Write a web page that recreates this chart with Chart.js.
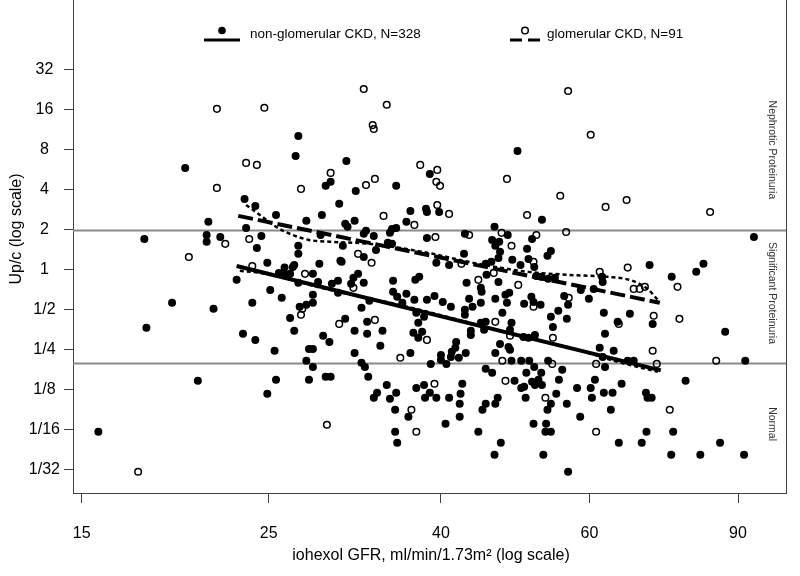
<!DOCTYPE html>
<html>
<head>
<meta charset="utf-8">
<script src="https://cdn.jsdelivr.net/npm/chart.js@4.4.1/dist/chart.umd.min.js"></script>
<style>
  html, body { margin: 0; padding: 0; background: #fff; }
  canvas { display: block; }
</style>
</head>
<body>
<canvas id="chart" width="800" height="576"></canvas>
<script>
// Up/c vs iohexol GFR, both on log axes, two CKD groups with fitted + smoothed lines

const FONT = '"Liberation Sans", Arial, Helvetica, sans-serif';
const AXIS = '#404040';

const xTickValues = [15, 25, 40, 60, 90];
const yTickValues = [1/32, 1/16, 1/8, 1/4, 1/2, 1, 2, 4, 8, 16, 32];
const yTickLabels = ['1/32', '1/16', '1/8', '1/4', '1/2', '1', '2', '4', '8', '16', '32'];
const cutoffs = [2, 0.2];
const zoneNames = ['Nephrotic Proteinuria', 'Significant Proteinuria', 'Normal'];
const seriesNames = ['non-glomerular CKD, N=328', 'glomerular CKD, N=91'];

// [GFR, Up/c]
const nonGlomerular = [
  [19.9,5.86],[23.4,3.42],[24.1,3.03],[21.2,2.30],[23.5,2.07],[21.1,1.83],[21.1,1.63],[21.9,1.77],[17.8,1.71],[24.2,1.46],
  [27.1,10.2],[26.9,7.21],[30.9,6.61],[38.8,5.28],[29.6,4.60],[29.2,4.29],[31.7,3.93],[35.4,4.29],[30.3,3.14],[25.5,2.59],
  [28.9,2.59],[27.7,2.34],[30.8,2.22],[31.0,2.11],[31.6,2.34],[36.8,2.78],[36.4,2.30],[38.4,2.88],[38.5,2.73],[24.5,1.80],
  [32.6,1.97],[32.4,1.87],[33.3,1.80],[35.0,2.03],[35.4,2.07],[34.8,1.90],[28.8,1.83],[38.5,1.74],[34.6,1.60],[35.0,1.57],
  [27.1,1.52],[30.6,1.52],[27.1,1.32],[33.5,1.41],[32.4,1.25],[24.9,1.13],[26.8,1.09],[26.7,1.05],[26.1,1.04],[28.7,1.11],
  [30.4,1.17],[30.5,1.15],
  [49.3,7.86],[39.8,2.73],[52.7,2.38],[46.3,2.11],[42.7,1.87],[48.0,1.83],[46.0,1.68],[46.9,1.63],[51.3,1.71],[46.4,1.52],
  [47.0,1.37],[50.6,1.44],[54.0,1.39],[53.5,1.28],[42.6,1.32],[46.8,1.23],[48.6,1.19],[50.8,1.21],[49.7,1.09],[51.6,1.05],
  [45.9,1.15],[45.2,1.11],[39.5,1.13],[40.9,1.09],
  [94.0,1.77],[70.7,1.09],[81.9,1.11],[80.3,0.966],
  [22.9,0.841],[19.2,0.565],[21.5,0.509],[23.9,0.565],[17.9,0.366],[23.3,0.330],[24.1,0.297],[20.6,0.146],[15.7,0.0604],
  [25.7,0.949],[26.1,0.917],[26.5,0.933],[28.2,0.933],[27.1,0.799],[28.6,0.812],[29.7,0.785],[30.2,0.827],[31.5,0.871],[31.9,0.933],
  [31.3,0.785],[32.4,0.799],[30.2,0.672],[35.1,0.827],[37.3,0.841],[37.7,0.886],[25.1,0.707],[25.9,0.616],[28.2,0.649],[28.2,0.565],
  [27.7,0.546],[27.2,0.527],[26.5,0.435],[26.8,0.348],[29.0,0.319],[29.5,0.287],[30.8,0.428],[32.2,0.518],[32.9,0.585],[32.7,0.406],
  [31.6,0.348],[32.7,0.330],[34.1,0.348],[33.9,0.268],[35.1,0.683],[35.5,0.627],[36.4,0.660],[36.0,0.565],[37.2,0.595],[38.5,0.595],
  [37.4,0.475],[38.2,0.443],[37.6,0.399],[37.1,0.336],[37.6,0.308],[38.0,0.342],[36.8,0.237],[25.4,0.246],[27.9,0.254],[28.2,0.254],
  [27.7,0.207],[28.2,0.186],[31.6,0.237],[32.2,0.200],[32.5,0.186],[32.8,0.157],[29.2,0.157],[29.6,0.157],[25.5,0.149],[27.9,0.149],
  [24.9,0.117],[34.5,0.136],[33.6,0.119],[33.3,0.109],[34.8,0.107],[35.4,0.119],[35.3,0.0884],[36.6,0.0783],[37.4,0.129],[38.2,0.136],
  [38.3,0.109],[35.3,0.0604],[35.5,0.0499],
  [39.3,0.637],[40.2,0.574],[41.1,0.527],[42.9,0.799],[44.6,0.732],[44.7,0.683],[45.3,0.917],[46.8,0.812],[51.9,0.901],[52.6,0.886],
  [53.6,0.856],[54.6,0.871],[47.7,0.649],[48.2,0.672],[46.4,0.605],[47.9,0.565],[50.2,0.555],[51.2,0.627],[51.5,0.574],[52.5,0.546],
  [43.2,0.605],[43.6,0.527],[44.6,0.565],[42.7,0.500],[42.7,0.459],[56.0,0.637],[56.6,0.546],[55.1,0.492],[56.4,0.428],[59.9,0.605],
  [58.6,0.707],[60.7,0.719],[54.0,0.443],[54.3,0.372],[47.3,0.475],[44.6,0.399],[45.2,0.406],[45.0,0.354],[43.4,0.348],[43.4,0.324],
  [48.5,0.399],[48.3,0.354],[50.1,0.313],[50.8,0.308],[51.7,0.324],[47.0,0.277],[48.1,0.263],[48.3,0.250],[46.4,0.237],[41.7,0.287],
  [41.6,0.259],[41.2,0.242],[41.1,0.221],[40.0,0.229],[40.0,0.210],[42.0,0.218],[42.8,0.237],[38.9,0.196],[40.6,0.196],[45.2,0.180],
  [46.0,0.168],[48.5,0.207],[49.8,0.207],[50.9,0.207],[51.6,0.186],[50.5,0.168],[52.6,0.168],[53.6,0.207],[55.7,0.177],[48.9,0.146],
  [49.8,0.129],[50.2,0.132],[51.3,0.144],[51.7,0.136],[52.7,0.136],[52.2,0.149],[50.4,0.109],[55.2,0.149],[54.8,0.117],[38.8,0.119],
  [39.5,0.109],[40.9,0.109],[42.4,0.139],[42.2,0.117],[42.1,0.0981],[42.1,0.0783],[46.7,0.109],[46.4,0.0981],[45.2,0.0981],[44.8,0.0884],
  [54.0,0.0981],[53.5,0.0884],[56.4,0.0981],[58.0,0.129],[60.2,0.129],[60.4,0.109],[60.9,0.149],[58.5,0.0783],[40.5,0.0694],[44.3,0.0604],
  [47.1,0.0499],[46.3,0.0405],[51.5,0.0694],[53.3,0.0694],[53.2,0.0604],[54.0,0.0604],[52.9,0.0405],[56.6,0.0302],
  [62.1,0.886],[62.2,0.812],[75.1,0.886],[62.4,0.475],[67.0,0.467],[64.8,0.406],[71.3,0.392],[62.6,0.330],[86.9,0.342],[64.1,0.246],
  [61.7,0.259],[62.2,0.221],[62.6,0.186],[66.6,0.207],[67.7,0.207],[91.8,0.207],[65.5,0.139],[62.4,0.119],[63.9,0.119],[70.0,0.119],
  [70.3,0.109],[71.1,0.109],[63.6,0.0884],[78.0,0.146],[70.1,0.0604],[75.4,0.0604],[65.0,0.0499],[69.2,0.0499],[85.7,0.0499],[75.0,0.0405],
  [81.2,0.0405],[91.5,0.0405]
];

const glomerular = [
  [21.7,16.3],[23.5,6.39],[24.2,6.17],[21.7,4.14],[22.2,1.57],[23.7,1.71],[20.1,1.25],[23.9,1.07],
  [24.7,16.6],[32.4,23.0],[34.5,17.5],[33.2,12.3],[33.3,11.5],[37.8,6.17],[29.6,5.37],[27.3,4.07],[33.4,4.84],[32.6,4.36],
  [34.2,2.55],[37.2,2.18],[31.9,1.32],[33.1,1.13],
  [56.6,22.2],[60.2,10.4],[39.6,5.66],[39.5,4.60],[39.9,4.29],[47.9,4.84],[55.4,3.61],[39.6,3.08],[40.9,2.64],[50.6,2.59],
  [43.2,1.83],[47.2,1.90],[51.9,1.83],[56.3,1.93],[39.4,1.77],[48.5,1.52],[51.5,1.15],[42.3,1.11],
  [62.7,2.98],[66.4,3.36],[83.4,2.73],[66.6,1.04],
  [17.5,0.0302],
  [27.6,0.933],[31.5,0.732],[27.4,0.509],[27.3,0.459],[30.3,0.392],[33.4,0.420],[38.5,0.297],[35.8,0.218],[29.3,0.0682],
  [36.9,0.0884],[37.4,0.0604],
  [44.3,0.841],[46.2,0.949],[49.4,0.771],[51.5,0.527],[56.7,0.616],[46.4,0.406],[48.3,0.319],[54.3,0.308],[47.3,0.207],
  [54.2,0.196],[61.1,0.196],[47.7,0.146],[39.3,0.139],[53.2,0.109],[61.1,0.0604],
  [61.7,0.966],[76.3,0.745],[67.7,0.719],[68.8,0.719],[69.8,0.745],[65.0,0.392],[71.5,0.451],[76.7,0.428],[71.3,0.246],
  [72.1,0.196],[84.8,0.207],[74.7,0.0884]
];

// regression lines and lowess curves
const nonGlomFit = [[22.9, 1.07], [72.9, 0.175]];
const glomFit = [[23.0, 2.55], [72.7, 0.565]];
const nonGlomSmooth = [[23.1,0.983],[24.4,0.949],[29.5,0.707],[35.7,0.545],[42.0,0.420],[49.4,0.319],[58.1,0.250],[64.8,0.203],[72.3,0.171]];
const glomSmooth = [[23.5,3.08],[24.4,2.59],[25.5,2.11],[26.7,1.83],[27.9,1.68],[29.5,1.63],[32.9,1.57],[38.7,1.34],
  [43.1,1.15],[50.8,0.966],[56.6,0.917],[63.1,0.886],[67.5,0.827],[70.3,0.719],[72.3,0.595]];

const toXY = pts => pts.map(([x, y]) => ({ x, y }));

const lineSet = (pts, width, dash) => ({
  type: 'line',
  data: toXY(pts),
  borderColor: '#000',
  borderWidth: width,
  borderDash: dash,
  pointRadius: 0,
  fill: false,
  cubicInterpolationMode: 'monotone',
  order: 0
});

// no label overhang padding, so the plot box fills the canvas top
const noPad = s => { s.paddingTop = 0; s.paddingBottom = 0; s.paddingLeft = 0; s.paddingRight = 0; };

const decor = {
  id: 'decor',
  beforeDatasetsDraw(chart) {
    const { ctx, chartArea: a, scales: { y } } = chart;
    ctx.save();
    ctx.strokeStyle = '#8a8a8a';
    ctx.lineWidth = 2;
    cutoffs.forEach(c => {
      const py = Math.round(y.getPixelForValue(c)) + 0.5;
      ctx.beginPath();
      ctx.moveTo(a.left, py);
      ctx.lineTo(a.right, py);
      ctx.stroke();
    });
    ctx.restore();
  },
  afterDraw(chart) {
    const { ctx, chartArea: a, scales: { y } } = chart;
    ctx.save();

    // right side of the box
    ctx.strokeStyle = AXIS;
    ctx.lineWidth = 1;
    ctx.beginPath();
    ctx.moveTo(a.right + 0.5, a.top);
    ctx.lineTo(a.right + 0.5, a.bottom);
    ctx.stroke();

    // zone names, rotated
    const zoneAt = [8, 0.67, 0.069];
    ctx.fillStyle = '#333';
    ctx.font = '10.5px ' + FONT;
    ctx.textAlign = 'center';
    ctx.textBaseline = 'middle';
    zoneNames.forEach((name, i) => {
      ctx.save();
      ctx.translate(772, y.getPixelForValue(zoneAt[i]));
      ctx.rotate(Math.PI / 2);
      ctx.fillText(name, 0, 0);
      ctx.restore();
    });

    // legend
    ctx.fillStyle = '#000';
    ctx.strokeStyle = '#000';
    ctx.lineWidth = 3;
    ctx.beginPath();
    ctx.moveTo(204, 40);
    ctx.lineTo(240, 40);
    ctx.stroke();
    ctx.beginPath();
    ctx.arc(222, 30.5, 3.8, 0, Math.PI * 2);
    ctx.fill();
    ctx.beginPath();
    ctx.moveTo(510, 40);
    ctx.lineTo(522, 40);
    ctx.moveTo(528, 40);
    ctx.lineTo(540, 40);
    ctx.stroke();
    ctx.lineWidth = 1.5;
    ctx.beginPath();
    ctx.arc(525, 30.5, 3.3, 0, Math.PI * 2);
    ctx.stroke();
    ctx.font = '13.5px ' + FONT;
    ctx.textAlign = 'left';
    ctx.textBaseline = 'middle';
    ctx.fillText(seriesNames[0], 250, 34.5);
    ctx.fillText(seriesNames[1], 547, 34.5);

    // axis titles
    ctx.font = '16px ' + FONT;
    ctx.textAlign = 'center';
    ctx.fillText('iohexol GFR, ml/min/1.73m\u00b2 (log scale)', 431, 556);
    ctx.save();
    ctx.translate(17, 229);
    ctx.rotate(-Math.PI / 2);
    ctx.fillText('Up/c (log scale)', 0, 0);
    ctx.restore();

    ctx.restore();
  }
};

new Chart(document.getElementById('chart'), {
  type: 'scatter',
  data: {
    datasets: [
      lineSet(nonGlomFit, 4, []),
      lineSet(glomFit, 4, [15, 5]),
      lineSet(nonGlomSmooth, 2.5, [4, 3]),
      lineSet(glomSmooth, 2.5, [4, 3]),
      {
        label: seriesNames[1],
        data: toXY(glomerular),
        pointRadius: 3.3,
        pointBackgroundColor: 'rgba(0,0,0,0)',
        pointBorderColor: '#000',
        pointBorderWidth: 1.5,
        order: 1
      },
      {
        label: seriesNames[0],
        data: toXY(nonGlomerular),
        pointRadius: 4,
        pointBackgroundColor: '#000',
        pointBorderColor: '#000',
        pointBorderWidth: 0,
        order: 2
      }
    ]
  },
  options: {
    responsive: false,
    animation: false,
    devicePixelRatio: 1,
    events: [],
    layout: { padding: { left: 0, right: 14, top: 0, bottom: 0 }, autoPadding: false },
    plugins: {
      legend: { display: false },
      tooltip: { enabled: false }
    },
    scales: {
      x: {
        type: 'logarithmic',
        bounds: 'data',
        min: 14.65,
        max: 102.6,
        afterFit: s => { s.height = 83; noPad(s); },
        afterBuildTicks: s => { s.ticks = xTickValues.map(v => ({ value: v })); },
        grid: { drawOnChartArea: false, drawTicks: true, tickLength: 10, tickColor: AXIS, tickWidth: 1 },
        border: { display: true, color: AXIS, width: 1 },
        ticks: {
          callback: v => String(v),
          autoSkip: false,
          maxRotation: 0,
          padding: 21,
          color: '#000',
          font: { family: FONT, size: 16 }
        }
      },
      y: {
        type: 'logarithmic',
        bounds: 'data',
        min: 0.0209,
        max: 107.6,
        afterFit: s => { s.width = 73; noPad(s); },
        afterBuildTicks: s => { s.ticks = yTickValues.map(v => ({ value: v })); },
        grid: { drawOnChartArea: false, drawTicks: true, tickLength: 9, tickColor: AXIS, tickWidth: 1 },
        border: { display: true, color: AXIS, width: 1 },
        ticks: {
          callback: v => yTickLabels[yTickValues.findIndex(t => Math.abs(t - v) / t < 1e-6)],
          autoSkip: false,
          crossAlign: 'center',
          padding: 4,
          color: '#000',
          font: { family: FONT, size: 16 }
        }
      }
    }
  },
  plugins: [decor]
});
</script>
</body>
</html>
